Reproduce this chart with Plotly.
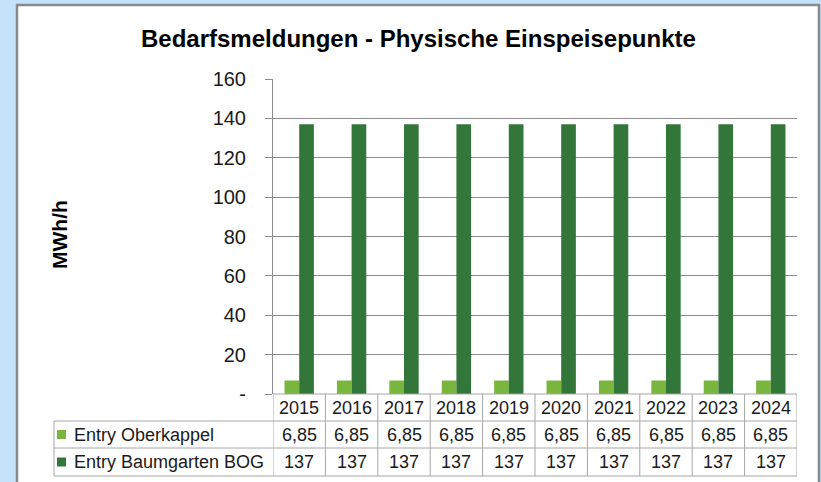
import plotly.graph_objects as go

years = ["2015", "2016", "2017", "2018", "2019", "2020", "2021", "2022", "2023", "2024"]
oberkappel = [6.85] * 10
baumgarten = [137] * 10
series_names = ["Entry Oberkappel", "Entry Baumgarten BOG"]
series_labels = [["6,85"] * 10, ["137"] * 10]
ytick_vals = [0, 20, 40, 60, 80, 100, 120, 140, 160]
ytick_text = ["-", "20", "40", "60", "80", "100", "120", "140", "160"]

LIGHT = "#7AB53E"
DARK = "#33763A"
GRID = "#8C8C8C"
TBL = "#A6A6A6"
BLUE = "#C4E2FA"
FONT = "Liberation Sans, Arial, sans-serif"

W, H = 821, 482
L, R, T, B = 273, 797, 79, 394


def px(xp):
    return (xp - L) / (R - L)


def py(yp):
    return (B - yp) / (B - T)


fig = go.Figure()
fig.add_bar(x=years, y=oberkappel, name=series_names[0], marker_color=LIGHT, marker_line_width=0)
fig.add_bar(x=years, y=baumgarten, name=series_names[1], marker_color=DARK, marker_line_width=0)

shapes = []
shapes.append(dict(type="rect", xref="paper", yref="paper", x0=px(17), x1=px(819), y0=py(495), y1=py(5),
                   fillcolor="white", line=dict(color="#8A8A8A", width=2.5), layer="below"))

n = len(years)
row_y = [394, 421, 448, 476]
shapes.append(dict(type="line", xref="x", yref="paper", x0=-0.5, x1=n - 0.5, y0=py(row_y[0]), y1=py(row_y[0]),
                   line=dict(color=TBL, width=1)))
for ry in row_y[1:]:
    shapes.append(dict(type="line", xref="paper", yref="paper", x0=px(54), x1=1, y0=py(ry), y1=py(ry),
                       line=dict(color=TBL, width=1)))
for k in range(n + 1):
    shapes.append(dict(type="line", xref="x", yref="paper", x0=k - 0.5, x1=k - 0.5, y0=py(row_y[0]), y1=py(row_y[3]),
                       line=dict(color=TBL, width=1)))
shapes.append(dict(type="line", xref="paper", yref="paper", x0=px(54), x1=px(54), y0=py(row_y[1]), y1=py(row_y[3]),
                   line=dict(color=TBL, width=1)))

for i, col in enumerate([LIGHT, DARK]):
    cy = (row_y[i + 1] + row_y[i + 2]) / 2
    shapes.append(dict(type="rect", xref="paper", yref="paper", x0=px(57), x1=px(66), y0=py(cy + 4.5), y1=py(cy - 4.5),
                       fillcolor=col, line=dict(width=0)))

annotations = []
tfont = dict(family=FONT, size=18, color="#1A1A1A")
hy = (row_y[0] + row_y[1]) / 2
for idx, yr in enumerate(years):
    annotations.append(dict(x=idx, xref="x", y=py(hy), yref="paper", text=yr, showarrow=False,
                            font=tfont, xanchor="center", yanchor="middle"))
for i in range(2):
    cy = (row_y[i + 1] + row_y[i + 2]) / 2
    annotations.append(dict(x=px(72), xref="paper", y=py(cy), yref="paper", text=series_names[i], showarrow=False,
                            font=tfont, xanchor="left", yanchor="middle"))
    for idx, lab in enumerate(series_labels[i]):
        annotations.append(dict(x=idx, xref="x", y=py(cy), yref="paper", text=lab, showarrow=False,
                                font=tfont, xanchor="center", yanchor="middle"))

annotations.append(dict(x=px(418), xref="paper", y=py(38), yref="paper",
                        text="<b>Bedarfsmeldungen - Physische Einspeisepunkte</b>",
                        showarrow=False, font=dict(family=FONT, size=24, color="black"),
                        xanchor="center", yanchor="middle"))
annotations.append(dict(x=px(59), xref="paper", y=py(235), yref="paper", text="<b>MWh/h</b>", textangle=-90,
                        showarrow=False, font=dict(family=FONT, size=21, color="black"),
                        xanchor="center", yanchor="middle"))

fig.update_layout(
    width=W, height=H,
    margin=dict(l=L, r=W - R, t=T, b=H - B, pad=0),
    paper_bgcolor=BLUE,
    plot_bgcolor="white",
    barmode="group", bargap=0.44, bargroupgap=0,
    showlegend=False,
    shapes=shapes,
    annotations=annotations,
    xaxis=dict(type="category", range=[-0.5, n - 0.5], autorange=False, showticklabels=False, showgrid=False,
               zeroline=False, showline=False, ticks="", automargin=False),
    yaxis=dict(range=[0, 160], autorange=False, tickvals=ytick_vals, ticktext=ytick_text, showgrid=True,
               gridcolor=GRID, gridwidth=1, zeroline=False, showline=True, linecolor=GRID, linewidth=1,
               ticks="outside", ticklen=7, tickcolor=GRID, automargin=False,
               tickfont=dict(family=FONT, size=20, color="#1A1A1A"), ticklabelstandoff=15),
)

fig.write_html("out.html", config={"displayModeBar": False},
               post_script="document.body.style.margin='0';document.body.style.background='%s';" % BLUE)
